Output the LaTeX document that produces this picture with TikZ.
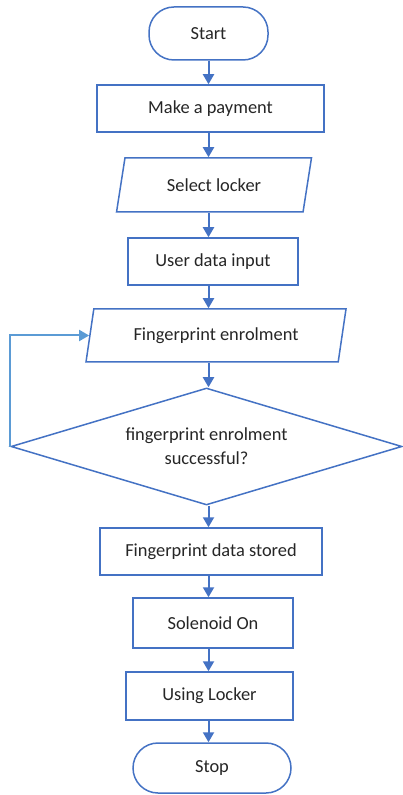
\documentclass[tikz,border=0pt]{standalone}
\usepackage{fontspec}
\setmainfont{Carlito}
\usepackage{tikz}
\usetikzlibrary{shapes.geometric,arrows.meta}
\definecolor{lineblue}{HTML}{4472C4}
\definecolor{loopblue}{HTML}{5B9BD5}
\definecolor{txtgray}{HTML}{262626}

\begin{document}
\begin{tikzpicture}[x=0.5pt,y=-0.5pt,>={Triangle[width=5.5pt,length=5pt]},
    every node/.style={font=\fontsize{9.2}{12}\selectfont,text=txtgray,align=center},
    box/.style={draw=lineblue,line width=0.75pt,fill=white,inner sep=2pt},
    term/.style={box,rounded corners=12.5pt},
    para/.style={box,trapezium,trapezium left angle=77,trapezium right angle=103,trapezium stretches=true},
    dec/.style={box,diamond,aspect=3.3,inner sep=0pt}]
      \useasboundingbox (0,0) rectangle (402,795);
      \node[term,minimum width=59.5pt,minimum height=26.5pt] (start) at (208.5,33.5) {Start};
      \node[box,minimum width=113.5pt,minimum height=23.5pt] (pay) at (210.5,108.5) {Make a payment};
      \node[para,minimum width=98pt,minimum height=27pt] (sel) at (214,185) {Select locker};
      \node[box,minimum width=85pt,minimum height=23.5pt] (udi) at (213,261.5) {User data input};
      \node[para,minimum width=131pt,minimum height=26.5pt] (enrol) at (216,335.5) {Fingerprint enrolment};
      \node[dec,minimum width=195.5pt,minimum height=58.5pt] (check) at (206.5,446.5) {fingerprint enrolment\\successful?};
      \node[box,minimum width=111pt,minimum height=23.5pt] (stored) at (211,551.5) {Fingerprint data stored};
      \node[box,minimum width=80pt,minimum height=25pt] (sol) at (213,623) {Solenoid On};
      \node[box,minimum width=83.5pt,minimum height=24pt] (using) at (209.5,696) {Using Locker};
      \node[term,minimum width=79pt,minimum height=25pt] (stop) at (212,768) {Stop};
      \foreach \a/\b in {start/pay,pay/sel,sel/udi,udi/enrol,enrol/check,check/stored,stored/sol,sol/using,using/stop}
        \draw[->,lineblue,line width=1pt] (\a.south -| start) -- (\b.north -| start);
      \draw[->,loopblue,line width=1pt] (check.west) |- (enrol.west);
\end{tikzpicture}
\end{document}
